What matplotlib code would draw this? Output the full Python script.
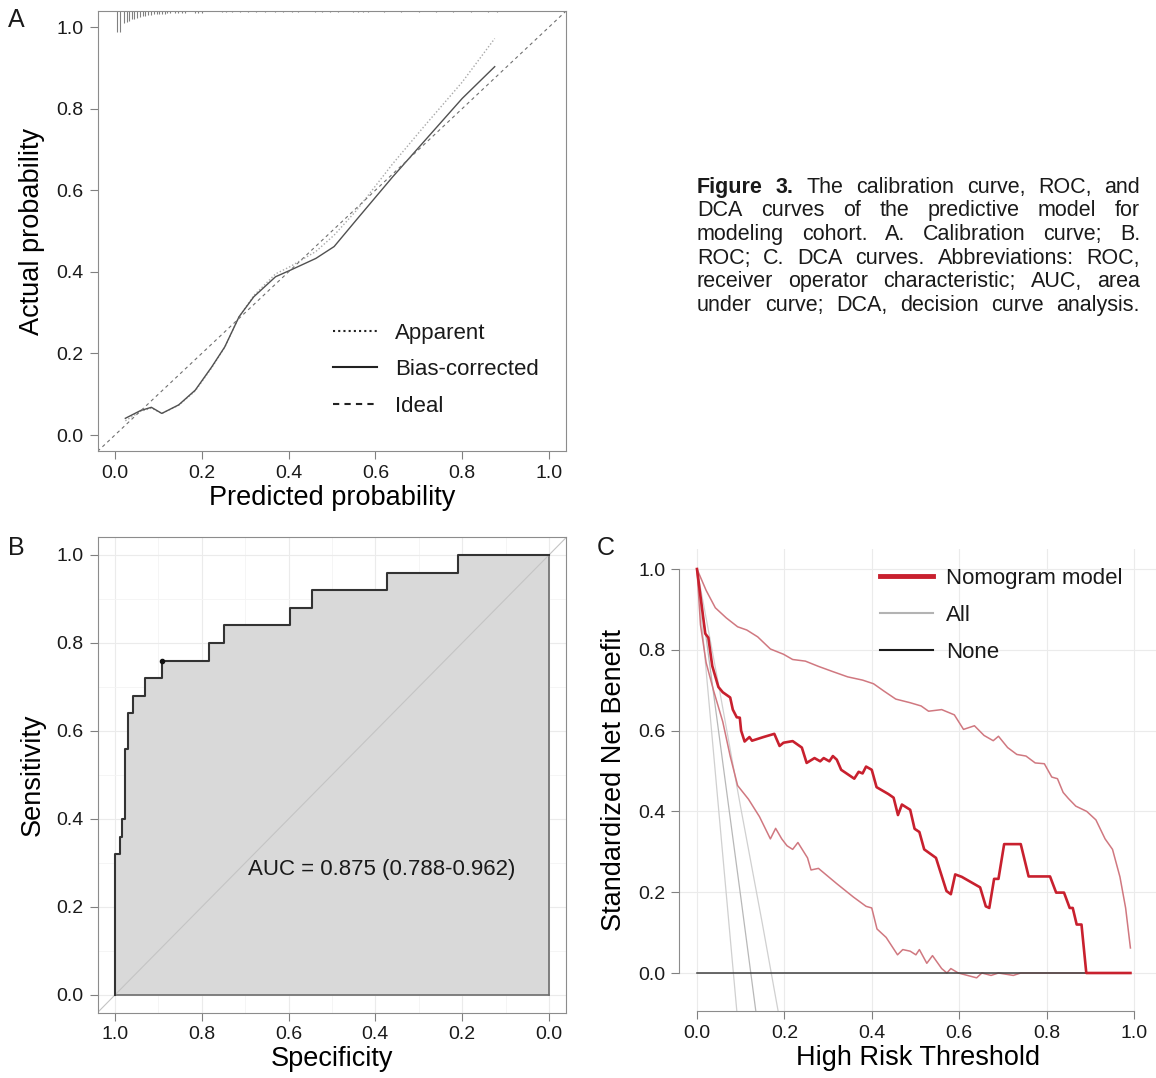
import numpy as np
import matplotlib.pyplot as plt
from matplotlib.lines import Line2D

plt.rcParams['font.family'] = ['Liberation Sans', 'DejaVu Sans']
plt.rcParams['text.color'] = '#1a1a1a'
plt.rcParams['xtick.color'] = '#808080'
plt.rcParams['ytick.color'] = '#808080'
plt.rcParams['xtick.labelcolor'] = '#1a1a1a'
plt.rcParams['ytick.labelcolor'] = '#1a1a1a'

# ---- A: calibration ----
cal_pred_bc = [0.024, 0.059, 0.084, 0.108, 0.147, 0.185, 0.223, 0.253, 0.286, 0.320,
               0.370, 0.404, 0.463, 0.505, 0.556, 0.640, 0.715, 0.800, 0.875]
cal_obs_bc = [0.041, 0.060, 0.068, 0.053, 0.074, 0.110, 0.167, 0.216, 0.290, 0.339,
              0.388, 0.404, 0.433, 0.462, 0.527, 0.633, 0.723, 0.825, 0.903]
cal_pred_app = [0.024, 0.059, 0.084, 0.108, 0.147, 0.185, 0.223, 0.253, 0.286, 0.320,
                0.370, 0.404, 0.463, 0.505, 0.556, 0.640, 0.715, 0.800, 0.875]
cal_obs_app = [0.035, 0.058, 0.066, 0.053, 0.073, 0.108, 0.165, 0.215, 0.290, 0.342,
               0.395, 0.413, 0.450, 0.490, 0.550, 0.665, 0.760, 0.865, 0.972]
# rug of predicted probabilities (position, tick length)
rug_x = [0.004, 0.012, 0.021, 0.027, 0.033, 0.039, 0.045, 0.051, 0.058, 0.064, 0.070,
         0.077, 0.083, 0.090, 0.096, 0.102, 0.108, 0.115, 0.121, 0.127, 0.138, 0.146,
         0.154, 0.161, 0.184, 0.192, 0.200, 0.246, 0.257, 0.269, 0.288, 0.307, 0.326,
         0.346, 0.369, 0.388, 0.407, 0.422, 0.461, 0.476, 0.495, 0.515, 0.549, 0.561,
         0.572, 0.584, 0.620, 0.660, 0.700, 0.740, 0.780, 0.820, 0.860, 0.880]
rug_len = [0.053, 0.053, 0.030, 0.027, 0.024, 0.021, 0.019, 0.017, 0.015, 0.013, 0.012,
           0.011, 0.010, 0.009, 0.008, 0.008, 0.007, 0.007, 0.006, 0.006, 0.006, 0.006,
           0.005, 0.005, 0.005, 0.005, 0.005, 0.004, 0.004, 0.004, 0.004, 0.004, 0.004,
           0.004, 0.004, 0.004, 0.004, 0.004, 0.004, 0.004, 0.004, 0.004, 0.004, 0.004,
           0.004, 0.004, 0.003, 0.003, 0.003, 0.003, 0.003, 0.003, 0.003, 0.003]

# ---- B: ROC ----
roc_spec = [1.0, 1.0, 0.989, 0.983, 0.976, 0.970, 0.959, 0.931, 0.892, 0.784,
            0.748, 0.596, 0.545, 0.374, 0.210, 0.0]
roc_sens = [0.0, 0.32, 0.36, 0.40, 0.56, 0.64, 0.68, 0.72, 0.76, 0.80,
            0.84, 0.88, 0.92, 0.96, 1.0, 1.0]
best_spec, best_sens = 0.892, 0.76
auc_label = 'AUC = 0.875 (0.788-0.962)'

# ---- C: decision curve ----
nom_x = [0.0, 0.019, 0.026, 0.035, 0.049, 0.059, 0.076, 0.082, 0.091, 0.098, 0.101, 0.109,
         0.120, 0.126, 0.152, 0.177, 0.189, 0.198, 0.219, 0.240, 0.251, 0.269, 0.282,
         0.290, 0.303, 0.311, 0.320, 0.330, 0.360, 0.370, 0.379, 0.387, 0.400, 0.411,
         0.438, 0.450, 0.460, 0.469, 0.488, 0.498, 0.509, 0.520, 0.547, 0.571, 0.581,
         0.591, 0.606, 0.648, 0.661, 0.669, 0.680, 0.690, 0.703, 0.741, 0.759, 0.808,
         0.822, 0.840, 0.853, 0.860, 0.869, 0.880, 0.891, 0.992]
nom_y = [1.0, 0.840, 0.830, 0.760, 0.708, 0.695, 0.682, 0.652, 0.633, 0.632, 0.600, 0.573,
         0.584, 0.575, 0.584, 0.592, 0.562, 0.570, 0.574, 0.558, 0.520, 0.532, 0.524,
         0.532, 0.524, 0.537, 0.528, 0.503, 0.481, 0.498, 0.494, 0.511, 0.503, 0.460,
         0.443, 0.434, 0.391, 0.417, 0.404, 0.357, 0.349, 0.306, 0.285, 0.203, 0.195,
         0.244, 0.238, 0.212, 0.165, 0.161, 0.233, 0.233, 0.319, 0.319, 0.239, 0.239,
         0.199, 0.199, 0.161, 0.161, 0.120, 0.120, 0.0, 0.0]
nom_hi_x = [0.0, 0.021, 0.042, 0.067, 0.093, 0.114, 0.139, 0.168, 0.198, 0.219, 0.248,
            0.278, 0.311, 0.345, 0.379, 0.404, 0.429, 0.455, 0.488, 0.513, 0.530, 0.560,
            0.589, 0.610, 0.635, 0.657, 0.678, 0.690, 0.711, 0.732, 0.753, 0.774, 0.795,
            0.812, 0.825, 0.838, 0.850, 0.867, 0.892, 0.913, 0.934, 0.951, 0.968, 0.981,
            0.992]
nom_hi_y = [1.0, 0.947, 0.904, 0.879, 0.857, 0.849, 0.832, 0.802, 0.789, 0.776, 0.772,
            0.759, 0.746, 0.733, 0.725, 0.716, 0.697, 0.678, 0.669, 0.661, 0.648, 0.652,
            0.639, 0.603, 0.612, 0.588, 0.575, 0.586, 0.558, 0.541, 0.537, 0.520, 0.518,
            0.485, 0.481, 0.447, 0.432, 0.413, 0.400, 0.379, 0.332, 0.306, 0.238, 0.161,
            0.062]
nom_lo_x = [0.0, 0.008, 0.021, 0.038, 0.059, 0.076, 0.093, 0.118, 0.143, 0.168, 0.180,
            0.194, 0.206, 0.219, 0.231, 0.253, 0.261, 0.278, 0.320, 0.358, 0.387, 0.400,
            0.412, 0.433, 0.459, 0.471, 0.488, 0.501, 0.509, 0.526, 0.539, 0.560, 0.572,
            0.581, 0.598, 0.640, 0.652, 0.673, 0.690, 0.724, 0.741, 0.992]
nom_lo_y = [1.0, 0.862, 0.768, 0.699, 0.622, 0.537, 0.464, 0.430, 0.387, 0.332, 0.358,
            0.332, 0.315, 0.306, 0.323, 0.285, 0.255, 0.259, 0.221, 0.188, 0.165, 0.161,
            0.109, 0.088, 0.045, 0.058, 0.054, 0.045, 0.058, 0.024, 0.043, 0.011, 0.0,
            0.011, 0.0, -0.012, 0.0, -0.006, 0.0, -0.006, 0.0, 0.0]
all_x = [0.0, 0.05, 0.10, 0.15, 0.20]
all_lo = [1.0, 0.40, -0.20, -0.80, -1.40]
all_mid = [1.0, 0.594, 0.19, -0.22, -0.62]
all_hi = [1.0, 0.71, 0.41, 0.12, -0.18]
none_x = [0.0, 0.992]
none_y = [0.0, 0.0]

caption_lines = [
    'Figure 3. The calibration curve, ROC, and',
    'DCA curves of the predictive model for',
    'modeling cohort. A. Calibration curve; B.',
    'ROC; C. DCA curves. Abbreviations: ROC,',
    'receiver operator characteristic; AUC, area',
    'under curve; DCA, decision curve analysis.',
]

W, H = 1156, 1078
fig = plt.figure(figsize=(W / 100, H / 100), dpi=100)
ticks = np.arange(0, 1.01, 0.2)
tick_lbls = ['%.1f' % t for t in ticks]

# ---------- panel A ----------
axA = fig.add_axes([0.0844, 0.5813, 0.4055, 0.4087])
axA.plot(cal_pred_app, cal_obs_app, ls=(0, (1, 1.5)), color='#a8a8a8', lw=1)
axA.plot(cal_pred_bc, cal_obs_bc, color='#505050', lw=1)
axA.axline((0, 0), (1, 1), ls=(0, (3, 3)), color='#707070', lw=0.8)
axA.set_xlim(-0.04, 1.04)
axA.set_ylim(-0.04, 1.04)
top = axA.get_ylim()[1]
axA.vlines(rug_x, [top - l for l in rug_len], top, color='#808080', lw=0.8)
axA.set_xticks(ticks, tick_lbls)
axA.set_yticks(ticks, tick_lbls)
axA.tick_params(length=6, width=0.8, labelsize=14, pad=4)
for s in axA.spines.values():
    s.set_color('#8c8c8c')
axA.set_xlabel('Predicted probability', fontsize=19.5, labelpad=2)
axA.set_ylabel('Actual probability', fontsize=19.5, labelpad=8)
hA = [Line2D([], [], ls=(0, (1, 1.5)), color='#222222', lw=1.5),
      Line2D([], [], color='#222222', lw=1.5),
      Line2D([], [], ls=(0, (3, 2.5)), color='#222222', lw=1.5)]
axA.legend(hA, ['Apparent', 'Bias-corrected', 'Ideal'], loc='upper left',
           bbox_to_anchor=(0.502, 0.292), frameon=False, fontsize=16,
           handlelength=2.0, handletextpad=0.8, labelspacing=0.7,
           borderpad=0, borderaxespad=0)

# ---------- panel B ----------
axB = fig.add_axes([0.0844, 0.0607, 0.4055, 0.4408])
axB.set_xlim(1.04, -0.04)
axB.set_ylim(-0.04, 1.04)
axB.set_xticks(ticks, tick_lbls)
axB.set_yticks(ticks, tick_lbls)
axB.set_xticks(np.arange(0.1, 1.0, 0.2), minor=True)
axB.set_yticks(np.arange(0.1, 1.0, 0.2), minor=True)
axB.grid(which='major', color='#ebebeb', lw=0.8)
axB.grid(which='minor', color='#f4f4f4', lw=0.6)
axB.set_axisbelow(True)
axB.fill_between(roc_spec, roc_sens, 0, step='post', color='#d9d9d9', lw=0)
axB.plot([roc_spec[0], roc_spec[-1]], [0, 0], color='#6e6e6e', lw=1.2)
axB.plot([roc_spec[-1], roc_spec[-1]], [0, roc_sens[-1]], color='#6e6e6e', lw=1.2)
axB.axline((1, 0), (0, 1), color='#c4c4c4', lw=0.8)
axB.plot(roc_spec, roc_sens, drawstyle='steps-post', color='#333333', lw=1.5)
axB.plot(best_spec, best_sens, 'o', ms=3, color='#111111')
axB.text(0.693, 0.286, auc_label, ha='left', va='center', fontsize=16)
axB.tick_params(length=6, width=0.8, labelsize=14, pad=4)
axB.tick_params(which='minor', length=0)
for s in axB.spines.values():
    s.set_color('#8c8c8c')
axB.set_xlabel('Specificity', fontsize=19.5, labelpad=2)
axB.set_ylabel('Sensitivity', fontsize=19.5, labelpad=8)

# ---------- panel C ----------
axC = fig.add_axes([0.5878, 0.0618, 0.4120, 0.4291])
axC.set_xlim(-0.04, 1.05)
axC.set_ylim(-0.095, 1.05)
axC.set_xticks(ticks, tick_lbls)
axC.set_yticks(ticks, tick_lbls)
axC.grid(color='#ebebeb', lw=0.8)
axC.set_axisbelow(True)
axC.plot(all_x, all_lo, color='#d0d0d0', lw=0.9)
axC.plot(all_x, all_mid, color='#b8b8b8', lw=0.9)
axC.plot(all_x, all_hi, color='#d0d0d0', lw=0.9)
axC.plot(nom_lo_x, nom_lo_y, color='#d07880', lw=1.1)
axC.plot(nom_hi_x, nom_hi_y, color='#d07880', lw=1.1)
axC.plot(none_x, none_y, color='#404040', lw=1.1)
axC.plot(nom_x, nom_y, color='#c8202e', lw=1.9)
for side in ['top', 'right']:
    axC.spines[side].set_visible(False)
for side in ['left', 'bottom']:
    axC.spines[side].set_color('#8c8c8c')
    axC.spines[side].set_bounds(0, 1)
axC.tick_params(length=6, width=0.8, labelsize=14, pad=4)
axC.set_xlabel('High Risk Threshold', fontsize=19.5, labelpad=2)
axC.set_ylabel('Standardized Net Benefit', fontsize=19.5, labelpad=8)
hC = [Line2D([], [], color='#c8202e', lw=3.5),
      Line2D([], [], color='#b3b3b3', lw=1.5),
      Line2D([], [], color='#1a1a1a', lw=1.5)]
axC.legend(hC, ['Nomogram model', 'All', 'None'], loc='upper left',
           bbox_to_anchor=(0.420, 0.958), frameon=False, fontsize=16,
           handlelength=2.4, handletextpad=0.6, labelspacing=0.72,
           borderpad=0, borderaxespad=0)

# ---------- panel letters ----------
fig.text(0.007, 0.981, 'A', fontsize=18, va='center')
fig.text(0.007, 0.4917, 'B', fontsize=18, va='center')
fig.text(0.516, 0.4917, 'C', fontsize=18, va='center')

# ---------- caption (justified, words on a common baseline) ----------
renderer = fig.canvas.get_renderer()
x0_px, x1_px = 697, 1140
line_y = [187, 210, 234, 258, 281, 305]
for i, line in enumerate(caption_lines):
    words = line.split(' ')
    texts = []
    for j, w in enumerate(words):
        wt = 'bold' if (i == 0 and j < 2) else 'normal'
        texts.append(fig.text(0, 1 - (line_y[i] + 6) / H, w, fontsize=15.5, fontweight=wt,
                              va='baseline', ha='left', color='#1a1a1a'))
    widths = [t.get_window_extent(renderer).width for t in texts]
    gap = (x1_px - x0_px - sum(widths)) / (len(words) - 1)
    x = x0_px
    for t, w in zip(texts, widths):
        t.set_x(x / W)
        x += w + gap

fig.savefig('out.png', dpi=100)
